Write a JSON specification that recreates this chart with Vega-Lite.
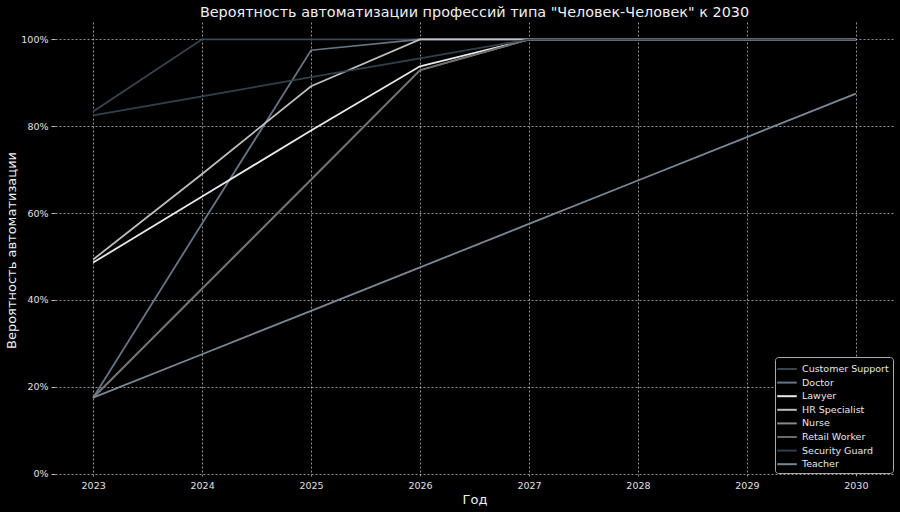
{
  "$schema": "https://vega.github.io/schema/vega-lite/v6.json",
  "autosize": "none",
  "width": 839,
  "height": 456,
  "padding": {"left": 55, "top": 22, "right": 6, "bottom": 34},
  "background": "#000000",
  "title": {"text": "Вероятность автоматизации профессий типа \"Человек-Человек\" к 2030", "color": "#f0f0f0", "font": "DejaVu Sans", "fontSize": 14.4, "fontWeight": "normal", "offset": 2},
  "config": {
    "view": {"stroke": null},
    "font": "DejaVu Sans"
  },
  "data": {"values": [
    {"year": 2023, "job": "Customer Support", "p": 0.834},
    {"year": 2024, "job": "Customer Support", "p": 1.0},
    {"year": 2025, "job": "Customer Support", "p": 1.0},
    {"year": 2026, "job": "Customer Support", "p": 1.0},
    {"year": 2027, "job": "Customer Support", "p": 1.0},
    {"year": 2028, "job": "Customer Support", "p": 1.0},
    {"year": 2029, "job": "Customer Support", "p": 1.0},
    {"year": 2030, "job": "Customer Support", "p": 1.0},
    {"year": 2023, "job": "Doctor", "p": 0.175},
    {"year": 2024, "job": "Doctor", "p": 0.576},
    {"year": 2025, "job": "Doctor", "p": 0.975},
    {"year": 2026, "job": "Doctor", "p": 1.0},
    {"year": 2027, "job": "Doctor", "p": 1.0},
    {"year": 2028, "job": "Doctor", "p": 1.0},
    {"year": 2029, "job": "Doctor", "p": 1.0},
    {"year": 2030, "job": "Doctor", "p": 1.0},
    {"year": 2023, "job": "Lawyer", "p": 0.486},
    {"year": 2024, "job": "Lawyer", "p": 0.638},
    {"year": 2025, "job": "Lawyer", "p": 0.79},
    {"year": 2026, "job": "Lawyer", "p": 0.938},
    {"year": 2027, "job": "Lawyer", "p": 1.0},
    {"year": 2028, "job": "Lawyer", "p": 1.0},
    {"year": 2029, "job": "Lawyer", "p": 1.0},
    {"year": 2030, "job": "Lawyer", "p": 1.0},
    {"year": 2023, "job": "HR Specialist", "p": 0.493},
    {"year": 2024, "job": "HR Specialist", "p": 0.69},
    {"year": 2025, "job": "HR Specialist", "p": 0.892},
    {"year": 2026, "job": "HR Specialist", "p": 1.0},
    {"year": 2027, "job": "HR Specialist", "p": 1.0},
    {"year": 2028, "job": "HR Specialist", "p": 1.0},
    {"year": 2029, "job": "HR Specialist", "p": 1.0},
    {"year": 2030, "job": "HR Specialist", "p": 1.0},
    {"year": 2023, "job": "Nurse", "p": 0.175},
    {"year": 2024, "job": "Nurse", "p": 0.426},
    {"year": 2025, "job": "Nurse", "p": 0.677},
    {"year": 2026, "job": "Nurse", "p": 0.929},
    {"year": 2027, "job": "Nurse", "p": 1.0},
    {"year": 2028, "job": "Nurse", "p": 1.0},
    {"year": 2029, "job": "Nurse", "p": 1.0},
    {"year": 2030, "job": "Nurse", "p": 1.0},
    {"year": 2023, "job": "Retail Worker", "p": 0.175},
    {"year": 2024, "job": "Retail Worker", "p": 0.426},
    {"year": 2025, "job": "Retail Worker", "p": 0.677},
    {"year": 2026, "job": "Retail Worker", "p": 0.929},
    {"year": 2027, "job": "Retail Worker", "p": 1.0},
    {"year": 2028, "job": "Retail Worker", "p": 1.0},
    {"year": 2029, "job": "Retail Worker", "p": 1.0},
    {"year": 2030, "job": "Retail Worker", "p": 1.0},
    {"year": 2023, "job": "Security Guard", "p": 0.825},
    {"year": 2024, "job": "Security Guard", "p": 0.869},
    {"year": 2025, "job": "Security Guard", "p": 0.913},
    {"year": 2026, "job": "Security Guard", "p": 0.956},
    {"year": 2027, "job": "Security Guard", "p": 1.0},
    {"year": 2028, "job": "Security Guard", "p": 1.0},
    {"year": 2029, "job": "Security Guard", "p": 1.0},
    {"year": 2030, "job": "Security Guard", "p": 1.0},
    {"year": 2023, "job": "Teacher", "p": 0.175},
    {"year": 2024, "job": "Teacher", "p": 0.275},
    {"year": 2025, "job": "Teacher", "p": 0.375},
    {"year": 2026, "job": "Teacher", "p": 0.475},
    {"year": 2027, "job": "Teacher", "p": 0.575},
    {"year": 2028, "job": "Teacher", "p": 0.675},
    {"year": 2029, "job": "Teacher", "p": 0.775},
    {"year": 2030, "job": "Teacher", "p": 0.875}
  ]},
  "mark": {"type": "line", "strokeWidth": 1.8, "opacity": 0.95},
  "encoding": {
    "x": {
      "field": "year", "type": "quantitative",
      "scale": {"domain": [2022.65, 2030.35], "nice": false, "zero": false},
      "axis": {
        "title": "Год", "titleColor": "#f0f0f0", "titleFontSize": 13, "titleFontWeight": "normal", "titlePadding": 4,
        "values": [2023, 2024, 2025, 2026, 2027, 2028, 2029, 2030], "format": "d",
        "labelColor": "#e0e0e0", "labelFontSize": 9.5, "labelPadding": 2,
        "domain": false, "ticks": false, "labelFlush": false,
        "grid": true, "gridColor": "#d0d0d0", "gridDash": [2, 2], "gridWidth": 0.8, "gridOpacity": 0.9
      }
    },
    "y": {
      "field": "p", "type": "quantitative",
      "scale": {"domain": [-0.01, 1.04], "nice": false, "zero": false},
      "axis": {
        "title": "Вероятность автоматизации", "titleColor": "#f0f0f0", "titleFontSize": 13, "titleFontWeight": "normal", "titlePadding": 2,
        "values": [0, 0.2, 0.4, 0.6, 0.8, 1.0], "format": ".0%",
        "labelColor": "#e0e0e0", "labelFontSize": 9.5, "labelPadding": 3,
        "domain": false, "ticks": true, "tickColor": "#c0c0c0", "tickSize": 4,
        "grid": true, "gridColor": "#d0d0d0", "gridDash": [2, 2], "gridWidth": 0.8, "gridOpacity": 0.9
      }
    },
    "color": {
      "field": "job", "type": "nominal",
      "scale": {
        "domain": ["Customer Support", "Doctor", "Lawyer", "HR Specialist", "Nurse", "Retail Worker", "Security Guard", "Teacher"],
        "range": ["#3b4853", "#6a7b8c", "#f5f5f5", "#c8c8c8", "#909090", "#707070", "#34444f", "#7f8fa0"]
      },
      "legend": {
        "title": null, "orient": "none", "legendX": 720, "legendY": 335,
        "symbolType": "M-1.5,0H1.5", "symbolStrokeWidth": 2, "symbolSize": 170,
        "labelColor": "#e8e8e8", "labelFontSize": 9.5, "rowPadding": 0.6, "labelOffset": 7,
        "symbolOffset": 0,
        "fillColor": "#000000", "strokeColor": "#aaaaaa", "cornerRadius": 3, "padding": 4
      }
    }
  }
}
